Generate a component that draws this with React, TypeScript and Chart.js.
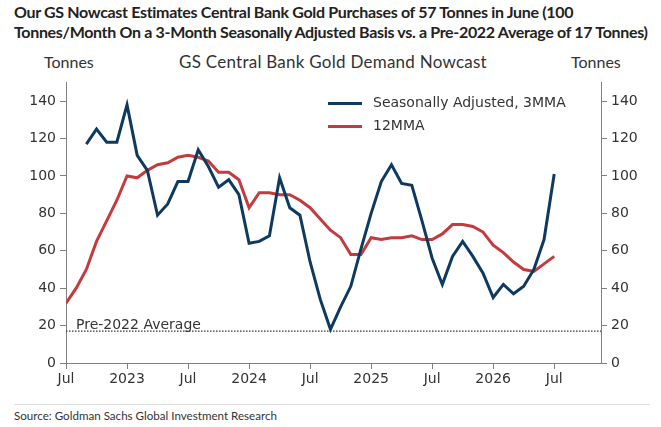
import { useEffect, useRef } from 'react';
import { Chart, registerables } from 'chart.js';

Chart.register(...registerables);

// x runs in months, 0 = Jul 2022
const xTickLabels = ['Jul', '2023', 'Jul', '2024', 'Jul', '2025', 'Jul', '2026', 'Jul'];
const xTickStep = 6;
const xMax = 52.6;

// Seasonally adjusted, 3MMA (Sep 2022 .. Jul 2026)
const sa3mmaStart = 2;
const sa3mma = [
  117, 125, 118, 118,
  138, 111, 103, 79, 85, 97, 97, 114, 105, 94, 98, 90,
  64, 65, 68, 99, 83, 79, 54, 34, 18, 30, 41, 61,
  80, 97, 106, 96, 95, 76, 56, 42, 57, 65, 57, 48,
  35, 42, 37, 41, 50, 66, 101
];

// 12MMA (Jul 2022 .. Jul 2026)
const mma12Start = 0;
const mma12 = [
  32, 40, 50, 65, 76, 87,
  100, 99, 103, 106, 107, 110, 111, 110, 108, 102, 102, 98,
  83, 91, 91, 90, 90, 87, 83, 77, 71, 67, 58, 58,
  67, 66, 67, 67, 68, 66, 66, 69, 74, 74, 73, 70,
  63, 59, 54, 50, 49, 53, 57
];

const pre2022Average = 17;
const yMax = 150;
const yStep = 20;

const seriesNames = ['Seasonally Adjusted, 3MMA', '12MMA'];
const blue = '#0f3a60';
const red = '#c43b3d';
const axisGrey = '#808080';
const tickFont = { family: '"DejaVu Sans"', size: 14 };

const overlay = {
  id: 'overlay',
  afterDatasetsDraw(chart: any) {
    const { ctx, chartArea, scales } = chart;
    ctx.save();
    ctx.font = '14px "DejaVu Sans"';
    ctx.fillStyle = '#333';
    const avgY = scales.y.getPixelForValue(pre2022Average);
    ctx.textBaseline = 'alphabetic';
    ctx.fillText('Pre-2022 Average', chartArea.left + 10, avgY - 2);

    // legend, top right inside the plot
    const colors = [blue, red];
    ctx.textBaseline = 'middle';
    ctx.lineWidth = 3;
    seriesNames.forEach((name, i) => {
      const y = chartArea.top + 21 + i * 23;
      ctx.strokeStyle = colors[i];
      ctx.beginPath();
      ctx.moveTo(328, y);
      ctx.lineTo(362, y);
      ctx.stroke();
      ctx.fillText(name, 373, y);
    });
    ctx.restore();
  }
};

export default function App() {
  const canvasRef = useRef<HTMLCanvasElement>(null);

  useEffect(() => {
    if (!canvasRef.current) return;

    const yAxis = (position: 'left' | 'right', width: number) => ({
      type: 'linear' as const,
      position,
      min: 0,
      max: yMax,
      afterFit: (s: any) => { s.width = width; },
      grid: { drawOnChartArea: false, drawTicks: true, tickLength: 6, tickColor: axisGrey },
      border: { display: true, color: axisGrey, width: 1 },
      ticks: { stepSize: yStep, includeBounds: false, padding: 4, color: '#333', font: tickFont }
    });

    const chart = new Chart(canvasRef.current, {
      type: 'line',
      data: {
        datasets: [
          {
            label: seriesNames[0],
            data: sa3mma.map((v, i) => ({ x: i + sa3mmaStart, y: v })),
            borderColor: blue,
            borderWidth: 3,
            pointRadius: 0,
            tension: 0
          },
          {
            label: seriesNames[1],
            data: mma12.map((v, i) => ({ x: i + mma12Start, y: v })),
            borderColor: red,
            borderWidth: 3,
            pointRadius: 0,
            tension: 0
          },
          {
            label: 'Pre-2022 Average',
            data: [{ x: 0, y: pre2022Average }, { x: xMax, y: pre2022Average }],
            borderColor: '#333',
            borderWidth: 1.2,
            borderDash: [1.5, 1.5],
            pointRadius: 0
          }
        ]
      },
      options: {
        animation: false,
        responsive: false,
        maintainAspectRatio: false,
        layout: { padding: { top: 10, left: 0, right: 0, bottom: 0 } },
        plugins: { legend: { display: false }, title: { display: false }, tooltip: { enabled: false } },
        scales: {
          x: {
            type: 'linear',
            min: 0,
            max: xMax,
            afterFit: (s: any) => { s.height = 37; },
            grid: { drawOnChartArea: false, drawTicks: true, tickLength: 6, tickColor: axisGrey },
            border: { display: true, color: axisGrey, width: 1 },
            ticks: {
              stepSize: xTickStep,
              includeBounds: false,
              padding: 2,
              color: '#333',
              font: tickFont,
              maxRotation: 0,
              autoSkip: false,
              callback: (v: any) => xTickLabels[Math.round(Number(v) / xTickStep)] ?? ''
            }
          },
          y: yAxis('left', 66),
          y2: yAxis('right', 60)
        }
      },
      plugins: [overlay]
    });

    return () => chart.destroy();
  }, []);

  return (
    <div style={{ position: 'absolute', left: 0, top: 0, width: 661, height: 427, background: '#fff', overflow: 'hidden' }}>
      <div style={{ position: 'absolute', left: 14, top: 2, fontFamily: 'Lato', fontWeight: 700, fontSize: 16, lineHeight: '20px', letterSpacing: -0.33, color: '#222', whiteSpace: 'nowrap' }}>
        Our GS Nowcast Estimates Central Bank Gold Purchases of 57 Tonnes in June (100<br />
        Tonnes/Month On a 3-Month Seasonally Adjusted Basis vs. a Pre-2022 Average of 17 Tonnes)
      </div>
      <div style={{ position: 'absolute', top: 52, left: 0, width: 661, fontFamily: 'Lato', fontSize: 16, color: '#333', lineHeight: '20px' }}>
        <span style={{ position: 'absolute', left: 44 }}>Tonnes</span>
        <span style={{ position: 'absolute', left: 0, width: 666, textAlign: 'center', fontSize: 17, letterSpacing: 0.25 }}>GS Central Bank Gold Demand Nowcast</span>
        <span style={{ position: 'absolute', left: 571 }}>Tonnes</span>
      </div>
      <canvas ref={canvasRef} width={661} height={330} style={{ position: 'absolute', left: 0, top: 70, width: 661, height: 330 }} />
      <div style={{ position: 'absolute', left: 14, top: 404, width: 636, borderTop: '1px solid #ddd' }} />
      <div style={{ position: 'absolute', left: 14, top: 408, fontFamily: 'Lato', fontSize: 11.6, color: '#333', lineHeight: '16px' }}>
        Source: Goldman Sachs Global Investment Research
      </div>
    </div>
  );
}
